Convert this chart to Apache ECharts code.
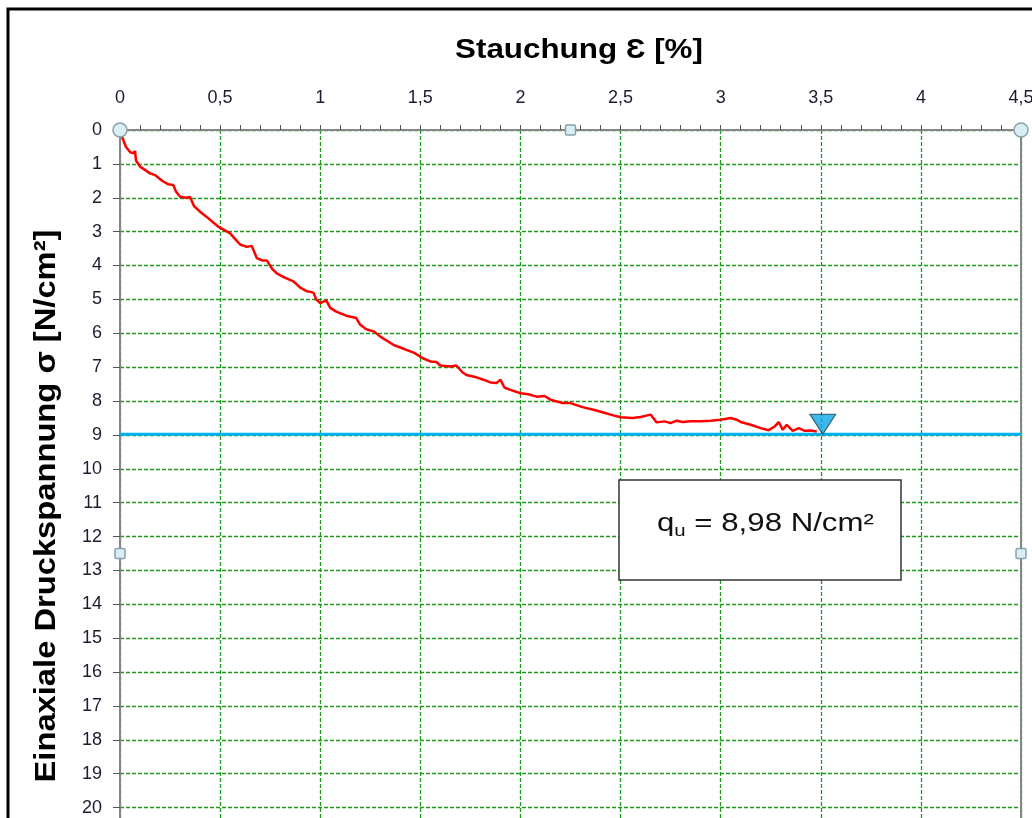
<!DOCTYPE html>
<html>
<head>
<meta charset="utf-8">
<script src="https://cdn.jsdelivr.net/npm/echarts@6/dist/echarts.min.js"></script>
<style>
  html, body { margin: 0; padding: 0; background: #fff; }
  #main { width: 1032px; height: 818px; }
</style>
</head>
<body>
<div id="main"></div>
<script>
// Messwerte: Stauchung [%] und Spannung [N/cm²]
const strain = [0, 0.01, 0.03, 0.05, 0.067, 0.075, 0.08, 0.1, 0.13, 0.15, 0.175, 0.2, 0.216, 0.24, 0.266, 0.28, 0.3, 0.33, 0.35, 0.37, 0.4, 0.43, 0.46, 0.49, 0.52, 0.55, 0.58, 0.6, 0.633, 0.658, 0.683, 0.71, 0.733, 0.76, 0.783, 0.82, 0.866, 0.9, 0.93, 0.966, 0.98, 1.0, 1.03, 1.05, 1.08, 1.13, 1.18, 1.2, 1.23, 1.27, 1.3, 1.365, 1.4, 1.43, 1.47, 1.51, 1.55, 1.58, 1.6, 1.65, 1.68, 1.71, 1.73, 1.78, 1.815, 1.85, 1.88, 1.9, 1.92, 1.95, 2.0, 2.04, 2.08, 2.12, 2.15, 2.21, 2.25, 2.31, 2.36, 2.41, 2.45, 2.5, 2.56, 2.6, 2.65, 2.68, 2.72, 2.75, 2.78, 2.81, 2.85, 2.9, 2.95, 3.0, 3.05, 3.08, 3.1, 3.15, 3.2, 3.24, 3.27, 3.29, 3.31, 3.33, 3.36, 3.39, 3.42, 3.45, 3.48]
const stress = [0, 0.2, 0.5, 0.65, 0.69, 0.62, 0.9, 1.08, 1.2, 1.28, 1.33, 1.45, 1.52, 1.6, 1.62, 1.82, 1.97, 2.0, 1.98, 2.25, 2.41, 2.55, 2.7, 2.85, 2.95, 3.05, 3.25, 3.38, 3.45, 3.42, 3.78, 3.85, 3.85, 4.1, 4.23, 4.35, 4.47, 4.65, 4.75, 4.8, 5.0, 5.11, 5.03, 5.25, 5.36, 5.48, 5.55, 5.75, 5.88, 5.95, 6.1, 6.34, 6.42, 6.49, 6.58, 6.73, 6.83, 6.85, 6.95, 6.98, 6.95, 7.15, 7.23, 7.3, 7.37, 7.45, 7.47, 7.37, 7.6, 7.67, 7.77, 7.8, 7.87, 7.85, 7.96, 8.06, 8.06, 8.18, 8.25, 8.33, 8.4, 8.48, 8.5, 8.47, 8.4, 8.63, 8.6, 8.65, 8.58, 8.62, 8.6, 8.6, 8.58, 8.55, 8.5, 8.55, 8.62, 8.7, 8.8, 8.86, 8.75, 8.62, 8.85, 8.7, 8.88, 8.8, 8.88, 8.87, 8.9]

// Bruchspannung qu
const quValue = 8.98
const quStrain = 3.51
const quLineX = [0, 4.5]

const font = 'Liberation Sans, Arial, sans-serif'
const labelColor = '#1c1c30'
const gridGreen = '#1e9a1e'
const axisGrey = '#858585'

const chart = echarts.init(document.getElementById('main'))

const option = {
  animation: false,
  backgroundColor: '#fff',
  grid: { left: 120, top: 130, width: 901, height: 847, containLabel: false, outerBoundsMode: 'none' },
  xAxis: {
    type: 'value',
    position: 'top',
    min: 0,
    max: 4.5,
    interval: 0.5,
    axisLine: { show: true, lineStyle: { color: axisGrey, width: 2 } },
    axisTick: { show: true, inside: false, length: 5, lineStyle: { color: '#555', width: 1 } },
    minorTick: { show: true, splitNumber: 5, length: 5, lineStyle: { color: '#555', width: 1 } },
    axisLabel: {
      margin: 23,
      fontFamily: font,
      fontSize: 18,
      color: labelColor,
      showMaxLabel: true,
      showMinLabel: true,
      formatter: v => String(v).replace('.', ',')
    },
    splitLine: { show: true, lineStyle: { color: gridGreen, type: [4, 2], width: 1.3 } }
  },
  yAxis: [
    {
      type: 'value',
      inverse: true,
      min: 0,
      max: 25,
      interval: 1,
      axisLine: { show: true, onZero: false, lineStyle: { color: axisGrey, width: 2 } },
      axisTick: { show: true, inside: false, length: 7, lineStyle: { color: '#555', width: 1 } },
      axisLabel: { margin: 18, fontFamily: font, fontSize: 18, color: labelColor, showMinLabel: true, hideOverlap: false },
      splitLine: { show: true, lineStyle: { color: gridGreen, type: [4, 2], width: 1.3 } }
    },
    {
      type: 'value',
      position: 'right',
      inverse: true,
      min: 0,
      max: 25,
      axisLine: { show: true, onZero: false, lineStyle: { color: axisGrey, width: 2 } },
      axisTick: { show: false },
      axisLabel: { show: false },
      splitLine: { show: false }
    }
  ],
  series: [
    {
      name: 'Spannung',
      type: 'line',
      data: strain.map((x, i) => [x, stress[i]]),
      showSymbol: false,
      lineStyle: { color: '#ff0000', width: 2.5 },
      z: 3
    },
    {
      name: 'qu',
      type: 'line',
      data: quLineX.map(x => [x, quValue]),
      showSymbol: false,
      lineStyle: { color: '#00b0f0', width: 3 },
      z: 2
    },
    {
      name: 'qu-Punkt',
      type: 'scatter',
      data: [[quStrain, quValue]],
      symbol: 'path://M0,0L26,0L13,20Z',
      symbolSize: [26, 20],
      symbolOffset: [0, -10],
      itemStyle: { color: '#0aa8e6', borderColor: '#203844', borderWidth: 1 },
      z: 4
    }
  ],
  graphic: [
    {
      type: 'rect',
      shape: { x: 8, y: 9, width: 1200, height: 1000 },
      style: { fill: 'none', stroke: '#000', lineWidth: 3 },
      silent: true
    },
    {
      type: 'text',
      x: 579, y: 50,
      scaleX: 1.12,
      style: {
        text: 'Stauchung Ɛ [%]',
        align: 'center', verticalAlign: 'middle',
        font: 'bold 28px ' + font,
        fill: '#000'
      }
    },
    {
      type: 'text',
      x: 47, y: 506,
      rotation: Math.PI / 2,
      scaleX: 1.09,
      style: {
        text: 'Einaxiale Druckspannung σ [N/cm²]',
        align: 'center', verticalAlign: 'middle',
        font: 'bold 30px ' + font,
        fill: '#000'
      }
    },
    {
      type: 'group',
      x: 619, y: 480,
      children: [
        {
          type: 'rect',
          shape: { x: 0, y: 0, width: 282, height: 100 },
          style: { fill: '#fff', stroke: '#333', lineWidth: 1.5 },
          z: 10
        },
        {
          type: 'text',
          x: 38, y: 44,
          scaleX: 1.2,
          z: 11,
          style: {
            text: '{q|q}{s|u}{q| = 8,98 N/cm²}',
            verticalAlign: 'middle',
            rich: {
              q: { font: '26px ' + font, fill: '#111' },
              s: { font: '17px ' + font, fill: '#111', padding: [14, 0, 0, 0] }
            }
          }
        }
      ]
    }
  ]
}

chart.setOption(option)

// Auswahlpunkte des Diagrammbereichs
const toPx = v => chart.convertToPixel({ xAxisIndex: 0, yAxisIndex: 0 }, v)
const handleStyle = { fill: '#d8eef4', stroke: '#8aa0aa', lineWidth: 1.5 }
const circ = p => ({ type: 'circle', z: 20, shape: { cx: p[0], cy: p[1], r: 7 }, style: handleStyle })
const sq = p => ({ type: 'rect', z: 20, shape: { x: p[0] - 5, y: p[1] - 5, width: 10, height: 10, r: 1.5 }, style: handleStyle })
chart.setOption({
  graphic: option.graphic.concat([
    circ(toPx([0, 0])), circ(toPx([4.5, 0])),
    sq(toPx([2.25, 0])), sq(toPx([0, 12.5])), sq(toPx([4.5, 12.5]))
  ])
})
</script>
</body>
</html>
